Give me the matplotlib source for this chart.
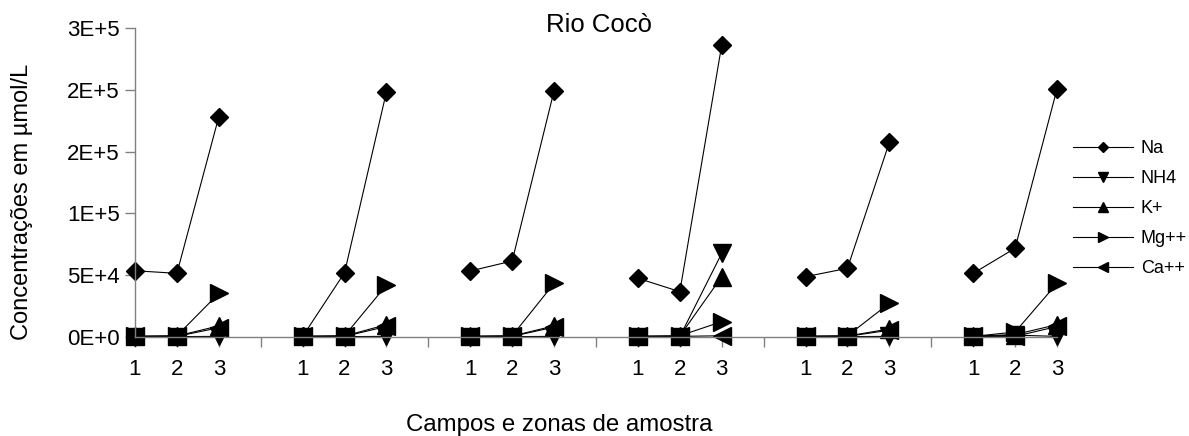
import numpy as np
import matplotlib
matplotlib.use('Agg')
import matplotlib.pyplot as plt

plt.rcParams['font.family'] = ['Liberation Sans', 'DejaVu Sans']

# 6 campos, 3 zonas each
zone_labels = ['1', '2', '3']
n_groups = 6
series_names = ['Na', 'NH4', 'K+', 'Mg++', 'Ca++']
markers = ['D', 'v', '^', '>', '<']

na = [53600, 51500, 178200, 500, 52000, 198400, 53400, 61500, 199300,
      47500, 36700, 236200, 48800, 55600, 157500, 51500, 71800, 200600]
nh4 = [300, 300, 500, 300, 300, 500, 300, 300, 500,
       300, 300, 67700, 300, 300, 500, 300, 1500, 500]
k = [600, 800, 9000, 600, 800, 10000, 600, 800, 9000,
     600, 800, 48800, 600, 800, 6500, 600, 2000, 10000]
mg = [500, 1000, 35300, 500, 1000, 42000, 500, 1000, 43400,
      500, 1000, 12400, 500, 1000, 27300, 500, 4000, 43400]
ca = [500, 500, 7500, 500, 500, 8500, 500, 500, 8000,
      500, 500, 1000, 500, 500, 5500, 500, 500, 8500]
all_series = [na, nh4, k, mg, ca]

yticks = [0, 50000, 100000, 150000, 200000, 250000]
ytick_labels = ['0E+0', '5E+4', '1E+5', '2E+5', '2E+5', '3E+5']

fig = plt.figure(figsize=(11.89, 4.36), dpi=100)
ax = fig.add_axes([135/1189, 1-337/436, (1057-135)/1189, (337-28)/436])

for name, vals, m in zip(series_names, all_series, markers):
    ms = 9.2 if m == 'D' else 13
    for g in range(n_groups):
        x = [4*g + p for p in range(3)]
        y = vals[3*g:3*g+3]
        ax.plot(x, y, color='black', lw=0.8, marker=m, ms=ms,
                mfc='black', mec='black', clip_on=False,
                label=name if g == 0 else None)

ax.set_xlim(0, 4*n_groups - 2)
ax.set_ylim(0, 250000)
ax.set_yticks(yticks)
ax.set_yticklabels(ytick_labels, fontsize=16)
xt = list(range(4*n_groups - 1))
ax.set_xticks(xt)
ax.set_xticklabels([zone_labels[i % 4] if i % 4 < 3 else '' for i in xt], fontsize=16)

for s in ['top', 'right']:
    ax.spines[s].set_visible(False)
for s in ['left', 'bottom']:
    ax.spines[s].set_color('#808080')
    ax.spines[s].set_linewidth(1)
ax.tick_params(axis='both', direction='out', length=7, color='#808080', width=1)
ax.tick_params(axis='x', pad=9)
ax.tick_params(axis='y', pad=4)

fig.text(599/1189, 1-25/436, 'Rio Cocò', ha='center', va='center', fontsize=18.5)
fig.text(559/1189, 1-425/436, 'Campos e zonas de amostra', ha='center', va='center', fontsize=17.3)
fig.text(22/1189, 1-202/436, 'Concentrações em µmol/L', ha='center', va='center',
         rotation=90, fontsize=17)

ax.legend(loc='upper left', bbox_to_anchor=(1073/1189, 1-140/436),
          bbox_transform=fig.transFigure, frameon=False, fontsize=13,
          handlelength=3.3, handletextpad=0.45, labelspacing=0.72,
          borderpad=0, borderaxespad=0, markerscale=0.6)

fig.savefig('out.png', dpi=100)
